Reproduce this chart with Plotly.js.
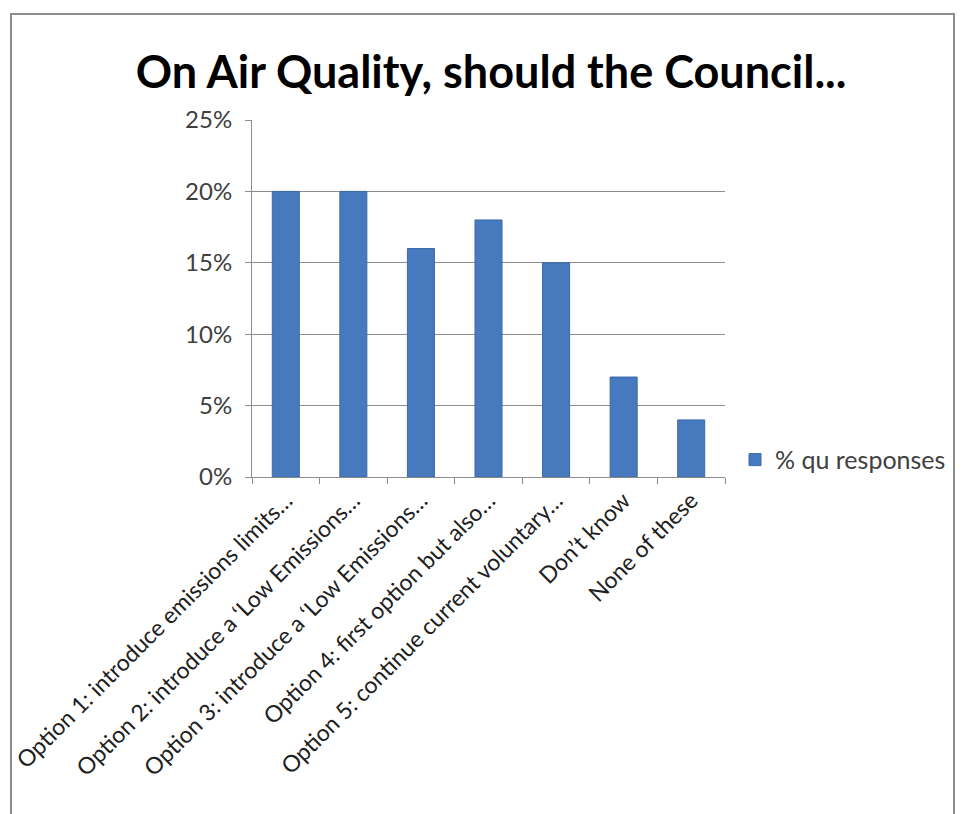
<!DOCTYPE html>
<html>
<head>
<meta charset="utf-8">
<script src="https://cdn.plot.ly/plotly-3.0.1.min.js"></script>
<style>
  html, body { margin: 0; padding: 0; background: #ffffff; }
  #chart { position: absolute; left: 0; top: 0; width: 962px; height: 814px; }
  #frame { position: absolute; left: 10px; top: 13px; width: 941px; height: 810px; pointer-events: none;
           border-left: 2px solid #8c8c8c; border-top: 2px solid #8c8c8c; border-right: 2px solid #8c8c8c; }
</style>
</head>
<body>
<div id="chart"></div>
<div id="frame"></div>
<script>
const categories = [
  "Option 1: introduce emissions limits…",
  "Option 2: introduce a ‘Low Emissions…",
  "Option 3: introduce a ‘Low Emissions…",
  "Option 4: first option but also…",
  "Option 5: continue current voluntary…",
  "Don’t know",
  "None of these"
];
const responses = [0.20, 0.20, 0.16, 0.18, 0.15, 0.07, 0.04];
const seriesName = "% qu responses";
const chartTitle = "On Air Quality, should the Council...";

const fontFam = "Lato, 'Open Sans', sans-serif";

Plotly.newPlot('chart', [{
  type: 'bar',
  x: categories,
  y: responses,
  name: seriesName,
  marker: { color: '#4679BD', line: { color: '#3d6aa6', width: 1 } },
  hoverinfo: 'x+y'
}], {
  width: 962,
  height: 814,
  margin: { l: 252, r: 236, t: 120, b: 337 },
  paper_bgcolor: 'rgba(0,0,0,0)',
  plot_bgcolor: '#ffffff',
  bargap: 0.6,
  showlegend: true,
  legend: {
    x: 1.019, y: 0.048, xanchor: 'left', yanchor: 'middle',
    font: { family: fontFam, size: 25, color: '#404040' },
    bgcolor: 'rgba(0,0,0,0)', itemwidth: 30
  },
  title: {
    text: '<b>' + chartTitle + '</b>',
    font: { family: fontFam, size: 45, color: '#000000' },
    x: 0.5105, xref: 'container', xanchor: 'center',
    y: 0.911, yref: 'container', yanchor: 'middle'
  },
  xaxis: {
    type: 'category',
    tickangle: -45,
    tickson: 'boundaries',
    ticks: 'outside', ticklen: 6, tickcolor: '#8c8c8c',
    showline: true, linecolor: '#8c8c8c', linewidth: 1,
    showgrid: false,
    tickfont: { family: fontFam, size: 23, color: '#202020' },
    automargin: false
  },
  yaxis: {
    range: [0, 0.25],
    dtick: 0.05,
    tickformat: '.0%',
    ticks: 'outside', ticklen: 6, tickcolor: '#8c8c8c',
    ticklabelstandoff: 8,
    showline: true, linecolor: '#8c8c8c', linewidth: 1,
    showgrid: true, gridcolor: '#8c8c8c', gridwidth: 1,
    zeroline: false,
    tickfont: { family: fontFam, size: 24, color: '#404040' },
    automargin: false
  }
}, { displayModeBar: false, staticPlot: true });
</script>
</body>
</html>
